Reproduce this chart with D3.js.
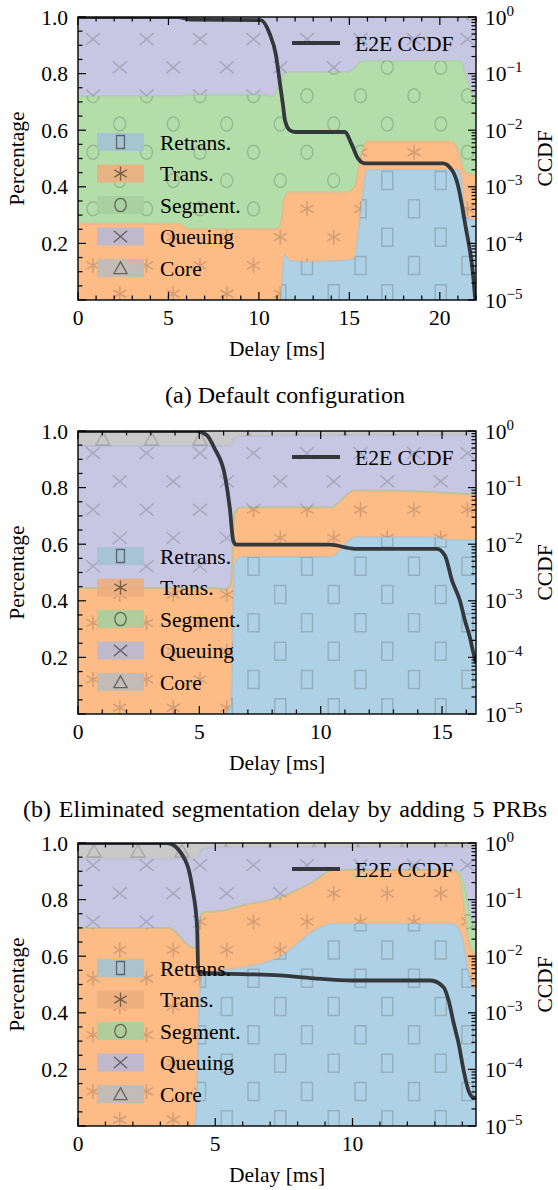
<!DOCTYPE html>
<html>
<head>
<meta charset="utf-8">
<script src="https://cdn.jsdelivr.net/npm/d3@7"></script>
<style>
  body { margin: 0; background: #fff; }
  svg text { font-family: "Liberation Serif", "Times New Roman", serif; fill: #000; }
</style>
</head>
<body>
<div id="chart"></div>
<script>
// layer definitions (bottom to top of the stack)
const layerKeys = ["retrans", "trans", "segment", "queuing", "core"];
const layerNames = ["Retrans.", "Trans.", "Segment.", "Queuing", "Core"];
const layerColors = ["#afd1e5", "#fdbb86", "#b3deaa", "#c7c7e3", "#c9c9c9"];
const layerSymbols = ["rect", "star", "circle", "cross", "triangle"];

// (a) Default configuration
const delay1    = [0, 5.5, 6.2, 10.2, 10.8, 11.2, 11.4, 11.7, 12.5, 14.8, 15.3, 15.6, 16.0, 20.6, 21.0, 21.2, 21.4, 21.7, 22];
const retrans1  = [0, 0, 0, 0, 0, 0, 0.16, 0.14, 0.135, 0.14, 0.15, 0.3, 0.46, 0.46, 0.46, 0.42, 0.3, 0.285, 0.28];
const trans1    = [0.27, 0.27, 0.25, 0.25, 0.25, 0.26, 0.2, 0.24, 0.245, 0.24, 0.25, 0.2, 0.1, 0.1, 0.07, 0.06, 0.15, 0.16, 0.16];
const segment1  = [0.45, 0.45, 0.475, 0.475, 0.47, 0.51, 0.44, 0.425, 0.425, 0.425, 0.42, 0.34, 0.285, 0.285, 0.315, 0.36, 0.35, 0.295, 0.26];
const queuing1  = [0.28, 0.28, 0.275, 0.275, 0.28, 0.23, 0.2, 0.195, 0.195, 0.195, 0.18, 0.16, 0.155, 0.155, 0.155, 0.16, 0.195, 0.245, 0.28];
const core1     = [0, 0, 0, 0, 0, 0, 0, 0, 0, 0, 0, 0, 0, 0, 0, 0, 0.005, 0.015, 0.02];
const ccdfDelay1 = [0, 5.5, 6.2, 10.1, 10.6, 10.94, 11.16, 11.33, 11.44, 11.71, 12.0, 14.75, 15.14, 15.47, 15.86, 20.17, 20.66, 21.0, 21.22, 21.44, 21.66, 21.82, 21.96];
const ccdf1      = [1, 1, 0.9, 0.88, 0.5, 0.214, 0.068, 0.028, 0.015, 0.01, 0.0093, 0.0093, 0.0055, 0.0032, 0.0026, 0.0026, 0.002, 0.00107, 0.00048, 0.000186, 0.000076, 0.0000316, 0.00001];

// (b) Eliminated segmentation delay by adding 5 PRBs
const delay2    = [0, 4.5, 5.6, 6.05, 6.3, 6.45, 6.7, 10.4, 11.4, 14.5, 15.5, 16.4];
const retrans2  = [0, 0, 0, 0, 0.03, 0.53, 0.555, 0.555, 0.625, 0.625, 0.615, 0.615];
const trans2    = [0.445, 0.445, 0.445, 0.44, 0.43, 0.18, 0.175, 0.175, 0.165, 0.16, 0.165, 0.16];
const segment2  = [0, 0, 0, 0, 0, 0, 0, 0, 0, 0, 0, 0];
const queuing2  = [0.502, 0.502, 0.502, 0.507, 0.49, 0.265, 0.252, 0.255, 0.195, 0.2, 0.205, 0.21];
const core2     = [0.053, 0.053, 0.053, 0.053, 0.05, 0.025, 0.018, 0.015, 0.015, 0.015, 0.015, 0.015];
const ccdfDelay2 = [0, 4.9, 5.3, 5.64, 6.06, 6.26, 6.39, 6.51, 10.38, 11.41, 14.79, 15.12, 15.41, 15.74, 15.95, 16.15, 16.27, 16.4];
const ccdf2      = [1, 1, 0.85, 0.48, 0.158, 0.042, 0.012, 0.0098, 0.0098, 0.0083, 0.0083, 0.0063, 0.0023, 0.001, 0.00044, 0.000224, 0.000132, 0.0000794];

// (c) third configuration
const delay3    = [0, 3.3, 4.2, 4.3, 4.42, 4.55, 5.2, 6.0, 7.4, 8.6, 9.3, 13.6, 13.85, 14.05, 14.25, 14.5];
const retrans3  = [0, 0, 0, 0.03, 0.45, 0.54, 0.55, 0.56, 0.6, 0.69, 0.715, 0.715, 0.7, 0.64, 0.53, 0.47];
const trans3    = [0.7, 0.7, 0.63, 0.605, 0.27, 0.215, 0.21, 0.22, 0.21, 0.175, 0.19, 0.19, 0.19, 0.14, 0.11, 0.13];
const segment3  = [0, 0, 0, 0, 0, 0, 0, 0, 0, 0, 0, 0, 0.01, 0.08, 0.12, 0.08];
const queuing3  = [0.245, 0.245, 0.315, 0.31, 0.24, 0.225, 0.225, 0.205, 0.175, 0.12, 0.08, 0.08, 0.085, 0.125, 0.225, 0.305];
const core3     = [0.055, 0.055, 0.055, 0.055, 0.04, 0.02, 0.015, 0.015, 0.015, 0.015, 0.015, 0.015, 0.015, 0.015, 0.015, 0.015];
const ccdfDelay3 = [0, 3.25, 3.8, 4.16, 4.34, 4.38, 4.53, 7.37, 8.58, 10.0, 12.85, 13.32, 13.5, 13.69, 13.87, 14.05, 14.23, 14.42, 14.5];
const ccdf3      = [1, 1, 0.617, 0.166, 0.0324, 0.00562, 0.00513, 0.00457, 0.00407, 0.00372, 0.00372, 0.00282, 0.00166, 0.000646, 0.000282, 0.0000955, 0.0000417, 0.0000316, 0.0000316];

const xLimits = [22, 16.4, 14.5];
const captions = ["(a) Default configuration", "(b) Eliminated segmentation delay by adding 5 PRBs", null];
const yTickLabels = [0.2, 0.4, 0.6, 0.8, 1.0];
const logTickExps = [0, -1, -2, -3, -4, -5];

const panels = [
    {delay: delay1, layers: [retrans1, trans1, segment1, queuing1, core1], ccdfX: ccdfDelay1, ccdfY: ccdf1},
    {delay: delay2, layers: [retrans2, trans2, segment2, queuing2, core2], ccdfX: ccdfDelay2, ccdfY: ccdf2},
    {delay: delay3, layers: [retrans3, trans3, segment3, queuing3, core3], ccdfX: ccdfDelay3, ccdfY: ccdf3}
];

// layout
const W = 558, H = 1190;
const left = 78, right = 476, plotH = 283;
const tops = [17, 431, 843];
const coreGrid = [{x0: 93, dx: 53.5}, {x0: 103, dx: 48.5}, {x0: 94, dx: 44}];
const fontSize = 21.5;
const lineColor = "#34383c";

const svg = d3.select("#chart").append("svg")
    .attr("width", W)
    .attr("height", H)
    .attr("viewBox", [0, 0, W, H]);

function symbolPath(type, s = 1) {
    switch (type) {
        case "rect": return `M${-5.5 * s},${-9 * s}h${11 * s}v${18 * s}h${-11 * s}Z`;
        case "star": return `M0,${-7.5 * s}V${7.5 * s}M${-6.5 * s},${-3.75 * s}L${6.5 * s},${3.75 * s}M${-6.5 * s},${3.75 * s}L${6.5 * s},${-3.75 * s}`;
        case "circle": return `M${-6 * s},0A${6 * s},${7 * s} 0 1,0 ${6 * s},0A${6 * s},${7 * s} 0 1,0 ${-6 * s},0`;
        case "cross": return `M${-7 * s},${-6 * s}L${7 * s},${6 * s}M${-7 * s},${6 * s}L${7 * s},${-6 * s}`;
        case "triangle": return `M0,${-6.5 * s}L${7 * s},${6 * s}L${-7 * s},${6 * s}Z`;
    }
}

panels.forEach((p, pi) => {
    const top = tops[pi], bottom = top + plotH;
    const xMax = xLimits[pi];
    const x = d3.scaleLinear().domain([0, xMax]).range([left, right]);
    const y = d3.scaleLinear().domain([0, 1]).range([bottom, top]);
    const yLog = d3.scaleLog().domain([1e-5, 1]).range([bottom, top]);

    const rows = p.delay.map((d, i) => {
        const r = {delay: d};
        layerKeys.forEach((k, li) => r[k] = p.layers[li][i]);
        return r;
    });
    const series = d3.stack().keys(layerKeys)(rows);

    const area = d3.area()
        .x(d => x(d.data.delay))
        .y0(d => y(d[0]))
        .y1(d => y(d[1]))
        .curve(d3.curveMonotoneX);
    const edge = d3.line()
        .x(d => x(d.data.delay))
        .y(d => y(d[1]))
        .curve(d3.curveMonotoneX);

    const g = svg.append("g");

    const defs = g.append("defs");
    defs.append("clipPath").attr("id", `plot-${pi}`)
        .append("rect").attr("x", left).attr("y", top).attr("width", right - left).attr("height", plotH);

    const areas = g.append("g").attr("clip-path", `url(#plot-${pi})`);

    series.forEach((s, li) => {
        areas.append("path")
            .attr("d", area(s))
            .attr("fill", layerColors[li]);
    });
    series.forEach((s, li) => {
        if (li === series.length - 1) return;
        areas.append("path")
            .attr("d", edge(s))
            .attr("fill", "none")
            .attr("stroke", d3.color(layerColors[li]).darker(0.25))
            .attr("stroke-opacity", 0.6)
            .attr("stroke-width", 1.8);
    });

    // marker "hatching" clipped to each layer
    series.forEach((s, li) => {
        const cid = `clip-${pi}-${li}`;
        defs.append("clipPath").attr("id", cid).append("path").attr("d", area(s));
        const pts = [];
        if (layerKeys[li] === "core") {
            for (let cx = coreGrid[pi].x0; cx < right + 8; cx += coreGrid[pi].dx) pts.push([cx, y(0.972)]);
        } else {
            for (let n = 0; n < 10; n++) {
                const cy = y(0.922 - 0.1 * n);
                for (let cx = 93 + (n % 2 ? 26.75 : 0); cx < right + 8; cx += 53.5) pts.push([cx, cy]);
            }
        }
        areas.append("g")
            .attr("clip-path", `url(#${cid})`)
            .selectAll("path")
            .data(pts)
            .join("path")
            .attr("transform", d => `translate(${d[0]},${d[1]})`)
            .attr("d", symbolPath(layerSymbols[li]))
            .attr("fill", "none")
            .attr("stroke", "rgba(60,60,60,0.22)")
            .attr("stroke-width", 1.5);
    });

    // CCDF line on the log axis
    const ccdfLine = d3.line()
        .x(d => x(d[0]))
        .y(d => yLog(d[1]))
        .curve(d3.curveMonotoneX);
    areas.append("path")
        .attr("d", ccdfLine(p.ccdfX.map((d, i) => [d, p.ccdfY[i]])))
        .attr("fill", "none")
        .attr("stroke", lineColor)
        .attr("stroke-width", 3.8)
        .attr("stroke-linejoin", "round");

    // legend: layers
    layerNames.forEach((name, li) => {
        const cy = top + 125 + 31.5 * li;
        g.append("rect")
            .attr("x", 97).attr("y", cy - 9)
            .attr("width", 47).attr("height", 18)
            .attr("fill", d3.color(layerColors[li]).darker(0.2))
            .attr("fill-opacity", 0.9);
        g.append("path")
            .attr("transform", `translate(120.5,${cy})`)
            .attr("d", symbolPath(layerSymbols[li], li === 0 ? 0.72 : 0.95))
            .attr("fill", "none")
            .attr("stroke", "rgba(40,40,40,0.6)")
            .attr("stroke-width", 1.3);
        g.append("text")
            .attr("x", 160).attr("y", cy + 7.5)
            .attr("font-size", fontSize)
            .text(name);
    });

    // legend: CCDF
    g.append("line")
        .attr("x1", 292).attr("x2", 340)
        .attr("y1", top + 26).attr("y2", top + 26)
        .attr("stroke", lineColor).attr("stroke-width", 4);
    g.append("text")
        .attr("x", 355).attr("y", top + 33.5)
        .attr("font-size", fontSize)
        .text("E2E CCDF");

    // frame and ticks
    const ticks = g.append("g").attr("stroke", "#000").attr("stroke-width", 1.2);
    d3.range(0, xMax + 1e-9, 1).forEach(v => {
        const len = v % 5 === 0 ? 8 : 4.5;
        ticks.append("line").attr("x1", x(v)).attr("x2", x(v)).attr("y1", bottom).attr("y2", bottom - len);
        ticks.append("line").attr("x1", x(v)).attr("x2", x(v)).attr("y1", top).attr("y2", top + len);
    });
    d3.range(0, 21).forEach(i => {
        const v = i * 0.05;
        const len = i % 4 === 0 ? 8 : 4.5;
        ticks.append("line").attr("x1", left).attr("x2", left + len).attr("y1", y(v)).attr("y2", y(v));
    });
    for (let e = -5; e <= 0; e++) {
        ticks.append("line").attr("x1", right).attr("x2", right - 8).attr("y1", yLog(10 ** e)).attr("y2", yLog(10 ** e));
        if (e < 0) for (let k = 2; k <= 9; k++) {
            const v = k * 10 ** e;
            ticks.append("line").attr("x1", right).attr("x2", right - 4.5).attr("y1", yLog(v)).attr("y2", yLog(v));
        }
    }
    g.append("rect")
        .attr("x", left).attr("y", top)
        .attr("width", right - left).attr("height", plotH)
        .attr("fill", "none").attr("stroke", "#000").attr("stroke-width", 1.4);

    // tick labels
    d3.range(0, xMax + 1e-9, 5).forEach(v => {
        g.append("text")
            .attr("x", x(v)).attr("y", bottom + 25)
            .attr("text-anchor", "middle")
            .attr("font-size", fontSize)
            .text(v);
    });
    yTickLabels.forEach(v => {
        g.append("text")
            .attr("x", 68).attr("y", y(v) + 7.5)
            .attr("text-anchor", "end")
            .attr("font-size", fontSize)
            .text(v.toFixed(1));
    });
    logTickExps.forEach(e => {
        const t = g.append("text")
            .attr("x", 485).attr("y", yLog(10 ** e) + 7.5)
            .attr("font-size", fontSize);
        t.append("tspan").text("10");
        t.append("tspan").attr("dy", -9).attr("font-size", 15).text(e === 0 ? "0" : "\u2212" + (-e));
    });

    // axis titles
    g.append("text")
        .attr("transform", `translate(24,${(top + bottom) / 2}) rotate(-90)`)
        .attr("text-anchor", "middle")
        .attr("font-size", fontSize)
        .text("Percentage");
    g.append("text")
        .attr("transform", `translate(552,${(top + bottom) / 2}) rotate(-90)`)
        .attr("text-anchor", "middle")
        .attr("font-size", fontSize)
        .text("CCDF");
    g.append("text")
        .attr("x", (left + right) / 2).attr("y", bottom + 56)
        .attr("text-anchor", "middle")
        .attr("font-size", fontSize)
        .text("Delay [ms]");

    if (captions[pi]) {
        const cap = g.append("text")
            .attr("y", bottom + 103)
            .attr("font-size", 24)
            .text(captions[pi]);
        if (pi === 1) {
            const w = cap.node().getComputedTextLength();
            const gaps = captions[pi].split(" ").length - 1;
            cap.attr("x", 23).attr("word-spacing", (524 - w) / gaps);
        } else {
            cap.attr("x", 285).attr("text-anchor", "middle");
        }
    }
});
</script>
</body>
</html>
